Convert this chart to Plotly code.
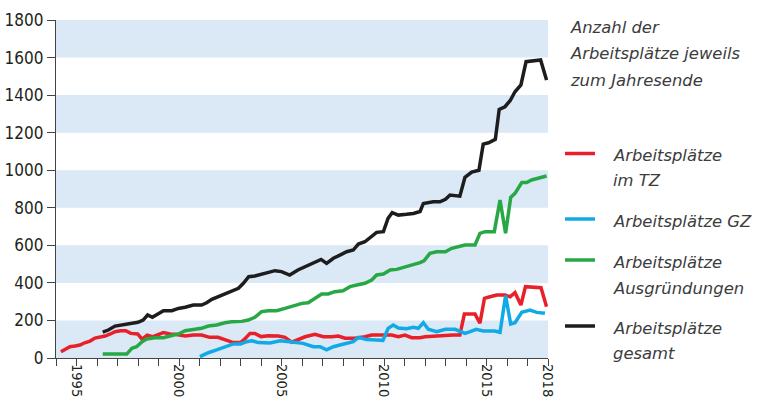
import plotly.graph_objects as go

# ---------------- data ----------------
tz_years = [1994.24, 1994.68, 1994.93, 1995.17, 1995.4, 1995.66, 1995.9, 1996.15, 1996.4, 1996.65,
            1996.88, 1997.15, 1997.4, 1997.65, 1997.98, 1998.2, 1998.45, 1998.7, 1998.95, 1999.24,
            1999.56, 1999.8, 2000.3, 2000.7, 2001.1, 2001.5, 2001.9, 2002.33, 2002.65, 2003.0,
            2003.2, 2003.46, 2003.7, 2004.0, 2004.36, 2004.85, 2005.17, 2005.5, 2005.9, 2006.15,
            2006.63, 2007.04, 2007.45, 2007.77, 2008.1, 2008.58, 2009.07, 2009.4, 2009.9, 2010.37,
            2010.7, 2011.02, 2011.35, 2011.76, 2012.0, 2012.5, 2013.0, 2013.38, 2013.7, 2013.92,
            2014.2, 2014.44, 2014.68, 2014.9, 2015.17, 2015.5, 2015.9, 2016.15, 2016.39, 2016.68,
            2016.9, 2017.28, 2017.66, 2017.93]
tz_values = [33, 60, 64, 69, 81, 90, 106, 110, 117, 128,
             140, 145, 145, 131, 128, 100, 122, 113, 122, 135,
             128, 126, 117, 122, 122, 110, 110, 92, 82, 82,
             100, 131, 131, 114, 119, 117, 110, 84, 100, 113,
             126, 113, 113, 117, 105, 105, 113, 122, 122, 122,
             113, 122, 108, 108, 113, 117, 122, 122, 122, 234,
             234, 234, 185, 318, 326, 335, 335, 326, 348, 282,
             380, 376, 374, 273]

gz_years = [2001.02, 2001.43, 2001.84, 2002.24, 2002.65, 2003.0, 2003.3, 2003.55, 2003.87, 2004.44,
            2004.93, 2005.4, 2006.05, 2006.55, 2006.88, 2007.2, 2007.53, 2007.85, 2008.18, 2008.5,
            2008.75, 2009.15, 2009.64, 2009.95, 2010.2, 2010.45, 2010.7, 2011.1, 2011.43, 2011.67,
            2011.92, 2012.16, 2012.57, 2013.0, 2013.46, 2013.7, 2013.95, 2014.2, 2014.5, 2014.84,
            2015.4, 2015.66, 2015.93, 2016.18, 2016.39, 2016.72, 2017.12, 2017.45, 2017.85]
gz_values = [7, 28, 43, 60, 75, 75, 87, 92, 82, 80,
             92, 87, 78, 60, 60, 43, 60, 69, 78, 87,
             110, 99, 96, 94, 158, 176, 160, 156, 163, 158,
             188, 153, 140, 153, 153, 140, 131, 140, 153, 144,
             144, 137, 332, 181, 188, 243, 255, 243, 238]

aus_years = [1996.28, 1997.45, 1997.7, 1997.93, 1998.2, 1998.42, 1998.83, 1999.24, 1999.56, 1999.97,
             2000.3, 2000.7, 2001.1, 2001.43, 2001.84, 2002.24, 2002.57, 2003.06, 2003.38, 2003.7,
             2004.03, 2004.36, 2004.76, 2005.17, 2005.58, 2006.0, 2006.3, 2006.63, 2006.96, 2007.28,
             2007.6, 2008.0, 2008.34, 2008.67, 2009.07, 2009.4, 2009.64, 2009.97, 2010.3, 2010.62,
             2011.02, 2011.35, 2011.76, 2011.95, 2012.24, 2012.57, 2013.0, 2013.3, 2013.7, 2013.95,
             2014.44, 2014.68, 2014.93, 2015.38, 2015.66, 2015.93, 2016.18, 2016.39, 2016.72, 2016.96,
             2017.2, 2017.6, 2017.93]
aus_values = [21, 21, 52, 60, 87, 101, 108, 108, 117, 128,
              145, 153, 158, 170, 176, 188, 193, 195, 202, 217,
              247, 252, 252, 264, 277, 291, 294, 318, 341, 341,
              353, 358, 380, 389, 398, 415, 442, 447, 469, 472,
              483, 495, 508, 518, 557, 566, 566, 584, 593, 602,
              602, 664, 673, 673, 841, 664, 855, 877, 934, 934,
              948, 960, 969]

ges_years = [1996.28, 1996.55, 1996.88, 1997.2, 1997.45, 1997.7, 1998.0, 1998.25, 1998.47, 1998.7,
             1999.0, 1999.24, 1999.65, 1999.97, 2000.3, 2000.7, 2001.1, 2001.35, 2001.6, 2001.92,
             2002.24, 2002.57, 2002.9, 2003.14, 2003.4, 2003.7, 2004.03, 2004.36, 2004.68, 2005.0,
             2005.4, 2005.8, 2006.3, 2006.63, 2006.93, 2007.2, 2007.53, 2007.85, 2008.18, 2008.5,
             2008.75, 2009.07, 2009.4, 2009.64, 2009.97, 2010.2, 2010.4, 2010.7, 2011.1, 2011.43,
             2011.76, 2011.92, 2012.4, 2012.73, 2013.0, 2013.22, 2013.7, 2013.95, 2014.28, 2014.63,
             2014.84, 2015.1, 2015.43, 2015.62, 2015.9, 2016.15, 2016.39, 2016.68, 2016.93, 2017.28,
             2017.64, 2017.93]
ges_values = [138, 149, 170, 176, 181, 188, 190, 202, 229, 217,
              234, 252, 252, 264, 270, 282, 282, 294, 312, 326,
              344, 358, 371, 398, 433, 437, 447, 460, 465, 460,
              442, 469, 495, 513, 525, 504, 531, 548, 566, 575,
              607, 619, 646, 669, 673, 744, 774, 761, 765, 770,
              780, 823, 832, 832, 845, 868, 862, 962, 990, 1000,
              1139, 1146, 1164, 1324, 1338, 1370, 1418, 1454, 1578, 1581,
              1587, 1480]

tick_years = list(range(1994, 2019))
labelled_years = [1995, 2000, 2005, 2010, 2015, 2018]
y_ticks = list(range(0, 1801, 200))
band_ranges = [(0, 200), (400, 600), (800, 1000), (1200, 1400), (1600, 1800)]

series = [
    ("Arbeitsplätze im TZ", tz_years, tz_values, "#e8202a"),
    ("Arbeitsplätze GZ", gz_years, gz_values, "#12aae6"),
    ("Arbeitsplätze Ausgründungen", aus_years, aus_values, "#27a844"),
    ("Arbeitsplätze gesamt", ges_years, ges_values, "#1e1d1d"),
]

# ---------------- figure ----------------
W, H = 768, 401
L, R, T, B = 56, 220, 20, 43
pw, ph = W - L - R, H - T - B


def px(x):
    return (x - L) / pw


def py(y):
    return (H - B - y) / ph


fig = go.Figure()
for name, xs, ys, col in series:
    fig.add_trace(go.Scatter(x=xs, y=ys, mode="lines", name=name,
                             line=dict(color=col, width=3.5), showlegend=False))

shapes = []
for lo, hi in band_ranges:
    shapes.append(dict(type="rect", xref="paper", yref="y", x0=0, x1=1, y0=lo, y1=hi,
                       fillcolor="#dbe9f6", line=dict(width=0), layer="below"))

text_font = dict(family="DejaVu Sans, Open Sans, sans-serif", size=16.4, color="#3c3c3c")
annotations = []
for txt, yy in [("Anzahl der", 27), ("Arbeitsplätze jeweils", 54), ("zum Jahresende", 80)]:
    annotations.append(dict(text="<i>%s</i>" % txt, xref="paper", yref="paper",
                            x=px(568), y=py(yy), xanchor="left", yanchor="middle",
                            showarrow=False, font=text_font))

legend_rows = [
    ("#e8202a", 153.5, [("Arbeitsplätze", 155), ("im TZ", 180)]),
    ("#12aae6", 219, [("Arbeitsplätze GZ", 221)]),
    ("#27a844", 260, [("Arbeitsplätze", 262), ("Ausgründungen", 288)]),
    ("#1e1d1d", 326, [("Arbeitsplätze", 328), ("gesamt", 353)]),
]
for col, ly, lines in legend_rows:
    shapes.append(dict(type="line", xref="paper", yref="paper", x0=px(565), x1=px(595),
                       y0=py(ly), y1=py(ly), line=dict(color=col, width=3.5)))
    for txt, yy in lines:
        annotations.append(dict(text="<i>%s</i>" % txt, xref="paper", yref="paper",
                                x=px(611), y=py(yy), xanchor="left", yanchor="middle",
                                showarrow=False, font=text_font))

tick_font_family = "Liberation Sans Narrow, DejaVu Sans Condensed, Arial Narrow, sans-serif"
fig.update_layout(
    width=W, height=H,
    margin=dict(l=L, r=R, t=T, b=B, pad=0, autoexpand=False),
    paper_bgcolor="white", plot_bgcolor="white",
    shapes=shapes, annotations=annotations,
    xaxis=dict(range=[1994, 2018], tickmode="array", tickvals=tick_years,
               ticktext=[str(y) if y in labelled_years else "" for y in tick_years],
               tickangle=90, ticks="outside", ticklen=7, tickwidth=1, tickcolor="#444",
               showline=True, linecolor="#444", linewidth=1.2, showgrid=False, zeroline=False,
               automargin=False, ticklabelstandoff=-5,
               tickfont=dict(family=tick_font_family, size=14.5, color="#231f20")),
    yaxis=dict(range=[0, 1800], tickmode="array", tickvals=y_ticks,
               ticks="outside", ticklen=8, tickwidth=1, tickcolor="#444",
               showline=True, linecolor="#444", linewidth=1.2, showgrid=False, zeroline=False,
               automargin=False,
               tickfont=dict(family=tick_font_family, size=17, color="#231f20")),
)

fig.write_html("out.html", config={"displayModeBar": False},
               post_script="document.body.style.margin='0';document.body.style.overflow='hidden';")
